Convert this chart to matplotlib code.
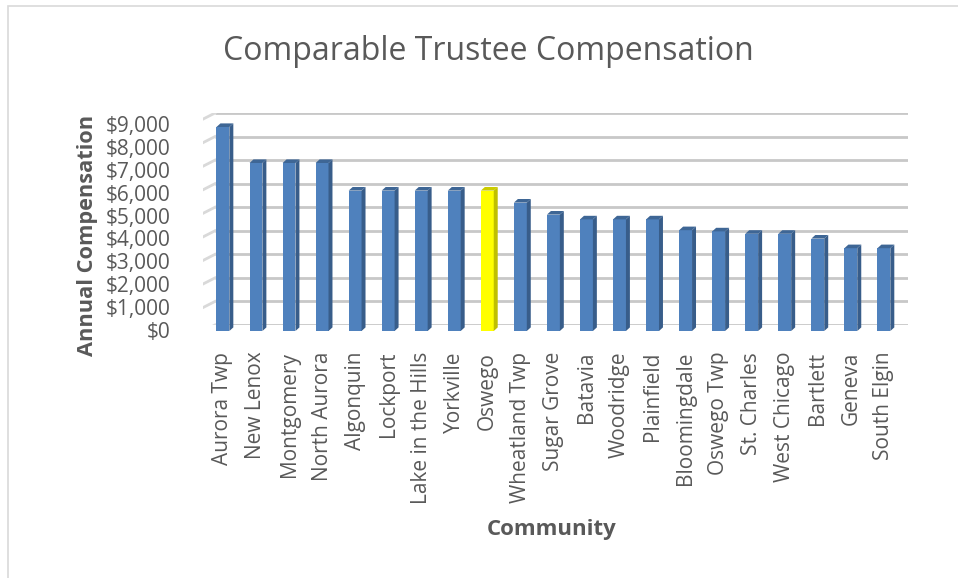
import matplotlib
matplotlib.use("Agg")
import matplotlib.pyplot as plt
from matplotlib.patches import Polygon, Rectangle

# data
communities = ["Aurora Twp", "New Lenox", "Montgomery", "North Aurora", "Algonquin",
               "Lockport", "Lake in the Hills", "Yorkville", "Oswego", "Wheatland Twp",
               "Sugar Grove", "Batavia", "Woodridge", "Plainfield", "Bloomingdale",
               "Oswego Twp", "St. Charles", "West Chicago", "Bartlett", "Geneva", "South Elgin"]
compensation = [8500, 7000, 7000, 7000, 5850, 5850, 5850, 5850, 5850, 5350,
                 4850, 4650, 4650, 4650, 4200, 4150, 4050, 4050, 3850, 3450, 3450]
highlight = "Oswego"
y_ticks = [0, 1000, 2000, 3000, 4000, 5000, 6000, 7000, 8000, 9000]

W, H = 958, 578
TEXT = "#595959"
FONT = ["Open Sans", "DejaVu Sans"]


def fig_rect(x0, y0, x1, y1):
    # pixel box (top-left origin) -> figure fraction rect
    return [x0 / W, 1 - y1 / H, (x1 - x0) / W, (y1 - y0) / H]


fig = plt.figure(figsize=(W / 100, H / 100), dpi=100)
fig.patch.set_facecolor("white")
fig.patches.append(Rectangle((8 / W, -0.01), 1.1, 1 - 6 / H + 0.01, transform=fig.transFigure,
                             fill=False, edgecolor="#D9D9D9", linewidth=1.2))

# back wall with gridlines
wall = fig.add_axes(fig_rect(203, 113, 908, 325))
wall.set_xlim(0, 1)
wall.set_ylim(0, 9000)
wall.axis("off")
slant = 12 / 705
for v in y_ticks:
    wall.plot([slant, 1], [v, v], color="#C8C8C8", linewidth=2, solid_capstyle="butt")
    wall.plot([0, slant], [v - 260, v], color="#D9D9D9", linewidth=2)

# value labels (front plane)
lab = fig.add_axes(fig_rect(180, 124, 200, 330))
lab.set_ylim(0, 9000)
lab.set_yticks(y_ticks)
lab.set_yticklabels(["${:,}".format(v) for v in y_ticks], fontsize=15, color=TEXT, family=FONT)
lab.tick_params(axis="y", length=0, pad=7)
lab.set_xticks([])
for s in lab.spines.values():
    s.set_visible(False)
lab.patch.set_alpha(0)

# bars
ax = fig.add_axes(fig_rect(213, 100, 910, 331))
ax.patch.set_alpha(0)
ax.set_xlim(-0.30, 20.79)
ax.set_ylim(0, 231 / 24 * 1000)
ax.set_yticks([])
for s in ax.spines.values():
    s.set_visible(False)

xs = list(range(len(communities)))
bw = 0.39
dx, dy = 0.12, 150
front = ["#FFFF00" if c == highlight else "#4F81BD" for c in communities]
side = ["#BFBF00" if c == highlight else "#385D8A" for c in communities]
top = ["#CCCC00" if c == highlight else "#3E6695" for c in communities]
ax.bar(xs, compensation, width=bw, color=front, zorder=3)
for x, v, sc, tc in zip(xs, compensation, side, top):
    r = x + bw / 2
    l = x - bw / 2
    ax.add_patch(Polygon([(r, 0), (r, v), (r + dx, v + dy), (r + dx, dy)], closed=True,
                         facecolor=sc, edgecolor="none", zorder=3))
    ax.add_patch(Polygon([(l, v), (r, v), (r + dx, v + dy), (l + dx, v + dy)], closed=True,
                         facecolor=tc, edgecolor="none", zorder=3))

ax.set_xticks(xs)
ax.set_xticklabels(communities, rotation=90, fontsize=15, color=TEXT, family=FONT)
ax.tick_params(axis="x", length=0, pad=15)

fig.text(488 / W, 1 - 51 / H, "Comparable Trustee Compensation", ha="center", va="center",
         fontsize=23, color=TEXT, family=FONT)
fig.text(88 / W, 1 - 235 / H, "Annual Compensation", ha="center", va="center", rotation=90,
         fontsize=15.7, fontweight="bold", color=TEXT, family=FONT)
fig.text(552 / W, 1 - 530 / H, "Community", ha="center", va="center",
         fontsize=16, fontweight="bold", color=TEXT, family=FONT)

fig.savefig("out.png", dpi=100)
